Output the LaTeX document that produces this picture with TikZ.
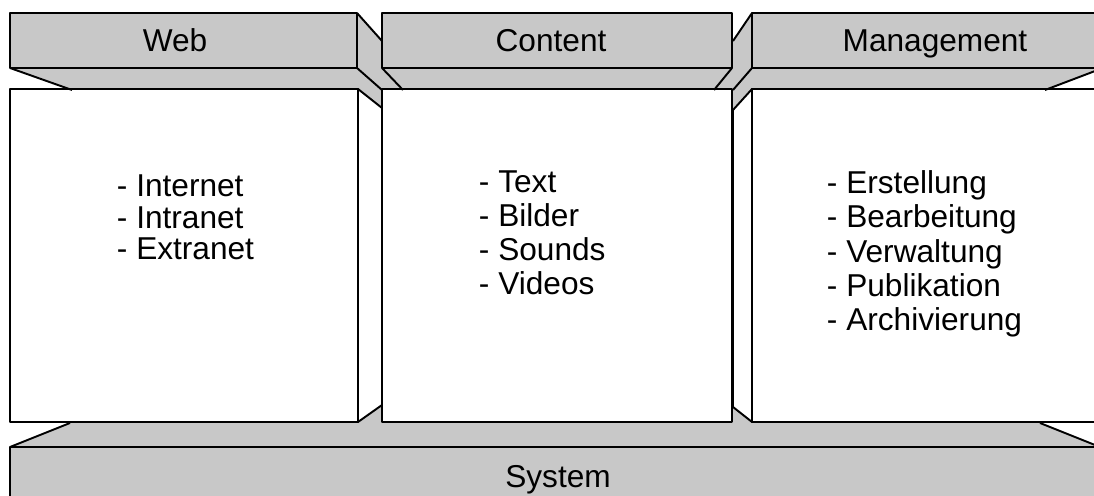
\documentclass[tikz,border=0pt]{standalone}
\usepackage{fontspec}
\setmainfont{Liberation Sans}
\usepackage{xcolor}
\definecolor{boxgray}{RGB}{200,200,200}
\usepackage{tikz}

\begin{document}
\begin{tikzpicture}[x=0.02cm, y=-0.02cm, line width=1.1pt, line join=round,
    grayface/.style={fill=boxgray, draw=black},
    whiteface/.style={fill=white, draw=black},
    titletext/.style={anchor=base, font=\fontsize{18}{20}\selectfont},
    listtext/.style={anchor=north west, align=left, inner sep=0pt, font=\fontsize{18}{19.4}\selectfont}]
  \useasboundingbox (0,0) rectangle (1094,496);
  \clip (0,0) rectangle (1094,496);

  % Gray background in the gaps
  \fill[boxgray] (357,13) -- (382,41) -- (382,430) -- (357,430) -- cycle;
  \fill[boxgray] (752,13) -- (733,41) -- (733,430) -- (752,430) -- cycle;
  \fill[boxgray] (10,68) -- (1103,68) -- (1045,90) -- (72,90) -- cycle;

  % System base
  \fill[boxgray] (70,423) -- (1040,423) -- (1100,447) -- (1100,500) -- (10,500) -- (10,447) -- cycle;
  \draw (10,500) -- (10,447) -- (70,423);
  \draw (10,447) -- (1100,447) -- (1040,423);

  % Columns
  \foreach \xa/\xb in {10/358, 382/732, 752/1103}
    \draw[whiteface] (\xa,89) rectangle (\xb,422);
  \draw[whiteface] (358,89) -- (382,108) -- (382,405) -- (358,422) -- cycle;
  \draw[whiteface] (752,89) -- (733,110) -- (733,407) -- (752,422) -- cycle;

  % Top bars
  \foreach \xa/\xb in {10/357, 382/732, 752/1103}
    \draw[grayface] (\xa,13) rectangle (\xb,68);
  \draw (10,68) -- (72,90);
  \draw (357,13) -- (382,41);
  \draw (357,68) -- (382,90);
  \draw (382,68) -- (403,90);
  \draw (732,68) -- (714,90);
  \draw (752,13) -- (733,41);
  \draw (752,68) -- (733,90);
  \draw (1103,68) -- (1045,90);

  % Labels
  \node[titletext] (webtitle) at (175,52) {Web};
  \node[titletext] (contenttitle) at (551,52) {Content};
  \node[titletext] (mgmttitle) at (935,52) {Management};
  \node[titletext] (systemtitle) at (558,487) {System};

  \node[listtext, font=\fontsize{18}{17.9}\selectfont] (weblist) at (116,174) {- Internet\\- Intranet\\- Extranet};
  \node[listtext] (contentlist) at (478,170) {- Text\\- Bilder\\- Sounds\\- Videos};
  \node[listtext] (mgmtlist) at (826,170) {- Erstellung\\- Bearbeitung\\- Verwaltung\\- Publikation\\- Archivierung};
\end{tikzpicture}
\end{document}
